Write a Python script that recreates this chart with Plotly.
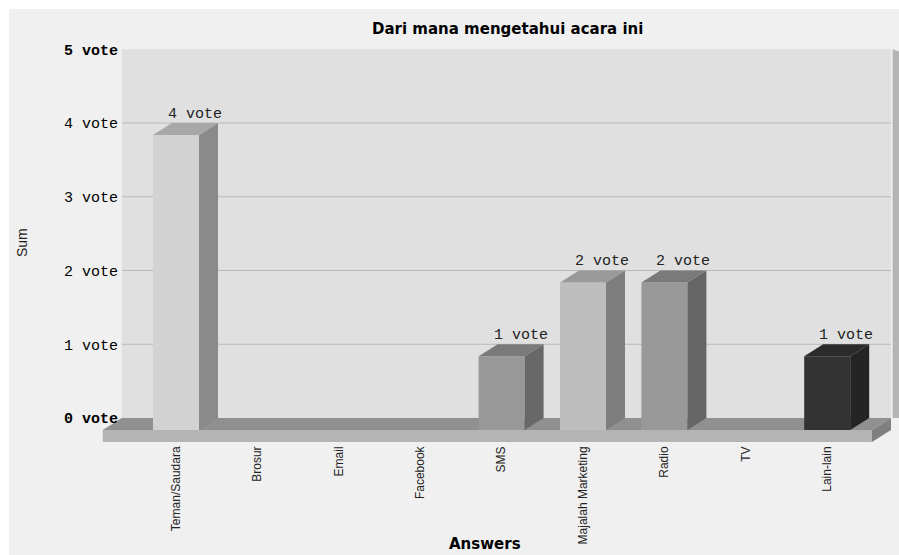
import plotly.graph_objects as go

# ---------------- data ----------------
CATEGORIES = ["Teman/Saudara", "Brosur", "Email", "Facebook", "SMS",
              "Majalah Marketing", "Radio", "TV", "Lain-lain"]
VOTES = [4, 0, 0, 0, 1, 2, 2, 0, 1]
FRONT_COLORS = ["#d2d2d2", "#c8c8c8", "#c8c8c8", "#c8c8c8", "#989898",
                "#bebebe", "#999999", "#909090", "#333333"]
SIDE_COLORS = ["#8a8a8a", "#888888", "#888888", "#888888", "#686868",
               "#7e7e7e", "#666666", "#666666", "#242424"]
TOP_COLORS = ["#a8a8a8", "#a0a0a0", "#a0a0a0", "#a0a0a0", "#7a7a7a",
              "#9a9a9a", "#7a7a7a", "#7a7a7a", "#2b2b2b"]
Y_TICKS = [0, 1, 2, 3, 4, 5]
Y_TICK_LABELS = ["<b>0 vote</b>", "1 vote", "2 vote", "3 vote", "4 vote", "<b>5 vote</b>"]
TITLE = "Dari mana mengetahui acara ini"
X_TITLE = "Answers"
Y_TITLE = "Sum"

# ---------------- geometry (pixels) ----------------
W, H = 899, 555
L, R, T, B = 100, 0, 40, 112
PLOT_W, PLOT_H = W - L - R, H - T - B
PX_X = 81.4      # pixels per category
PX_Y = 73.75     # pixels per vote
X0_PX = 176      # pixel of first category (front plane)
Y0_PX = 430      # pixel of zero (front plane)
DX = 19 / PX_X   # 3D depth offset in x units
DY = 12 / PX_Y   # 3D depth offset in y units
HW = 23 / PX_X   # half bar width
SLAB = 12 / PX_Y  # floor thickness

x_range = [(L - X0_PX) / PX_X, (W - R - X0_PX) / PX_X]
y_range = [-(H - B - Y0_PX) / PX_Y, (Y0_PX - T) / PX_Y]

n = len(CATEGORIES)
xL = -0.9
xR = (n - 1) + 0.55
ymax = max(Y_TICKS)


def px2paper_x(px):
    return (px - L) / PLOT_W


def px2paper_y(py):
    return (H - B - py) / PLOT_H


def poly(pts):
    return "M " + " L ".join(f"{x},{y}" for x, y in pts) + " Z"


shapes = []
# chart background (white border of 9px top/left)
shapes.append(dict(type="rect", xref="paper", yref="paper",
                   x0=px2paper_x(9), x1=px2paper_x(W + 5),
                   y0=px2paper_y(H + 5), y1=px2paper_y(9),
                   fillcolor="#f0f0f0", line_width=0, layer="below"))
# back wall
shapes.append(dict(type="path", xref="x", yref="y", layer="below",
                   path=poly([(xL + DX, DY), (xR + DX, DY), (xR + DX, ymax + DY), (xL + DX, ymax + DY)]),
                   fillcolor="#e0e0e0", line_width=0))
# right wall strip
shapes.append(dict(type="path", xref="x", yref="y", layer="below",
                   path=poly([(xR + DX + 0.02, DY), (x_range[1], DY), (x_range[1], ymax + DY - 0.03),
                              (xR + DX + 0.02, ymax + DY)]),
                   fillcolor="#b4b4b4", line_width=0))
# grid lines on back wall
for v in Y_TICKS[1:-1]:
    shapes.append(dict(type="line", xref="x", yref="y", layer="below",
                       x0=xL + DX, x1=xR + DX, y0=v + DY, y1=v + DY,
                       line=dict(color="#b8b8b8", width=1)))
# floor top
shapes.append(dict(type="path", xref="x", yref="y", layer="below",
                   path=poly([(xL, 0), (xR, 0), (xR + DX, DY), (xL + DX, DY)]),
                   fillcolor="#909090", line_width=0))
# floor front slab
shapes.append(dict(type="path", xref="x", yref="y", layer="below",
                   path=poly([(xL, -SLAB), (xR, -SLAB), (xR, 0), (xL, 0)]),
                   fillcolor="#b4b4b4", line_width=0))
# floor right side
shapes.append(dict(type="path", xref="x", yref="y", layer="below",
                   path=poly([(xR, -SLAB), (xR + DX, DY - SLAB), (xR + DX, DY), (xR, 0)]),
                   fillcolor="#808080", line_width=0))

fig = go.Figure()

# bar front faces
fig.add_trace(go.Bar(
    x=list(range(n)), y=VOTES, width=2 * HW,
    marker=dict(color=FRONT_COLORS, line=dict(width=0)),
    hoverinfo="skip", showlegend=False,
))

# bar sides and tops
for i, v in enumerate(VOTES):
    if v <= 0:
        continue
    side = [(i + HW, 0), (i + HW + DX, DY), (i + HW + DX, v + DY), (i + HW, v), (i + HW, 0)]
    top = [(i - HW, v), (i - HW + DX, v + DY), (i + HW + DX, v + DY), (i + HW, v), (i - HW, v)]
    for pts, col in ((side, SIDE_COLORS[i]), (top, TOP_COLORS[i])):
        fig.add_trace(go.Scatter(
            x=[p[0] for p in pts], y=[p[1] for p in pts],
            mode="lines", fill="toself", fillcolor=col,
            line=dict(width=0, color=col), hoverinfo="skip", showlegend=False,
        ))

annotations = []
# value labels
for i, v in enumerate(VOTES):
    if v <= 0:
        continue
    annotations.append(dict(x=i + DX, y=v + DY, xref="x", yref="y",
                            text=f"{v} vote", showarrow=False,
                            yanchor="middle", xanchor="center", yshift=9,
                            font=dict(family="Liberation Mono", size=15, color="#222222")))
# title
annotations.append(dict(x=px2paper_x(507), y=px2paper_y(29), xref="paper", yref="paper",
                        text=f"<b>{TITLE}</b>", showarrow=False,
                        xanchor="center", yanchor="middle",
                        font=dict(family="DejaVu Sans", size=15, color="#000000")))
# x title
annotations.append(dict(x=px2paper_x(485), y=px2paper_y(555), xref="paper", yref="paper",
                        text=f"<b>{X_TITLE}</b>", showarrow=False,
                        xanchor="center", yanchor="bottom",
                        font=dict(family="DejaVu Sans", size=15, color="#000000")))
# y title
annotations.append(dict(x=px2paper_x(22), y=px2paper_y(243), xref="paper", yref="paper",
                        text=Y_TITLE, showarrow=False, textangle=-90,
                        xanchor="center", yanchor="middle",
                        font=dict(family="Liberation Sans", size=14, color="#222222")))

fig.update_layout(
    width=W, height=H,
    margin=dict(l=L, r=R, t=T, b=B, pad=0),
    paper_bgcolor="#ffffff",
    plot_bgcolor="rgba(0,0,0,0)",
    shapes=shapes,
    annotations=annotations,
    showlegend=False,
    xaxis=dict(range=x_range, tickmode="array", tickvals=list(range(n)),
               ticktext=CATEGORIES, tickangle=-90, ticks="", showgrid=False,
               zeroline=False, showline=False, fixedrange=True,
               tickfont=dict(family="Liberation Sans Narrow, Liberation Sans", size=12,
                             color="#222222")),
    yaxis=dict(range=y_range, tickmode="array",
               tickvals=[v + DY for v in Y_TICKS], ticktext=Y_TICK_LABELS,
               anchor="free", position=px2paper_x(118), side="left",
               ticks="", showgrid=False, zeroline=False, showline=False, fixedrange=True,
               tickfont=dict(family="Liberation Mono", size=15, color="#000000")),
)

fig.write_html("out.html")
